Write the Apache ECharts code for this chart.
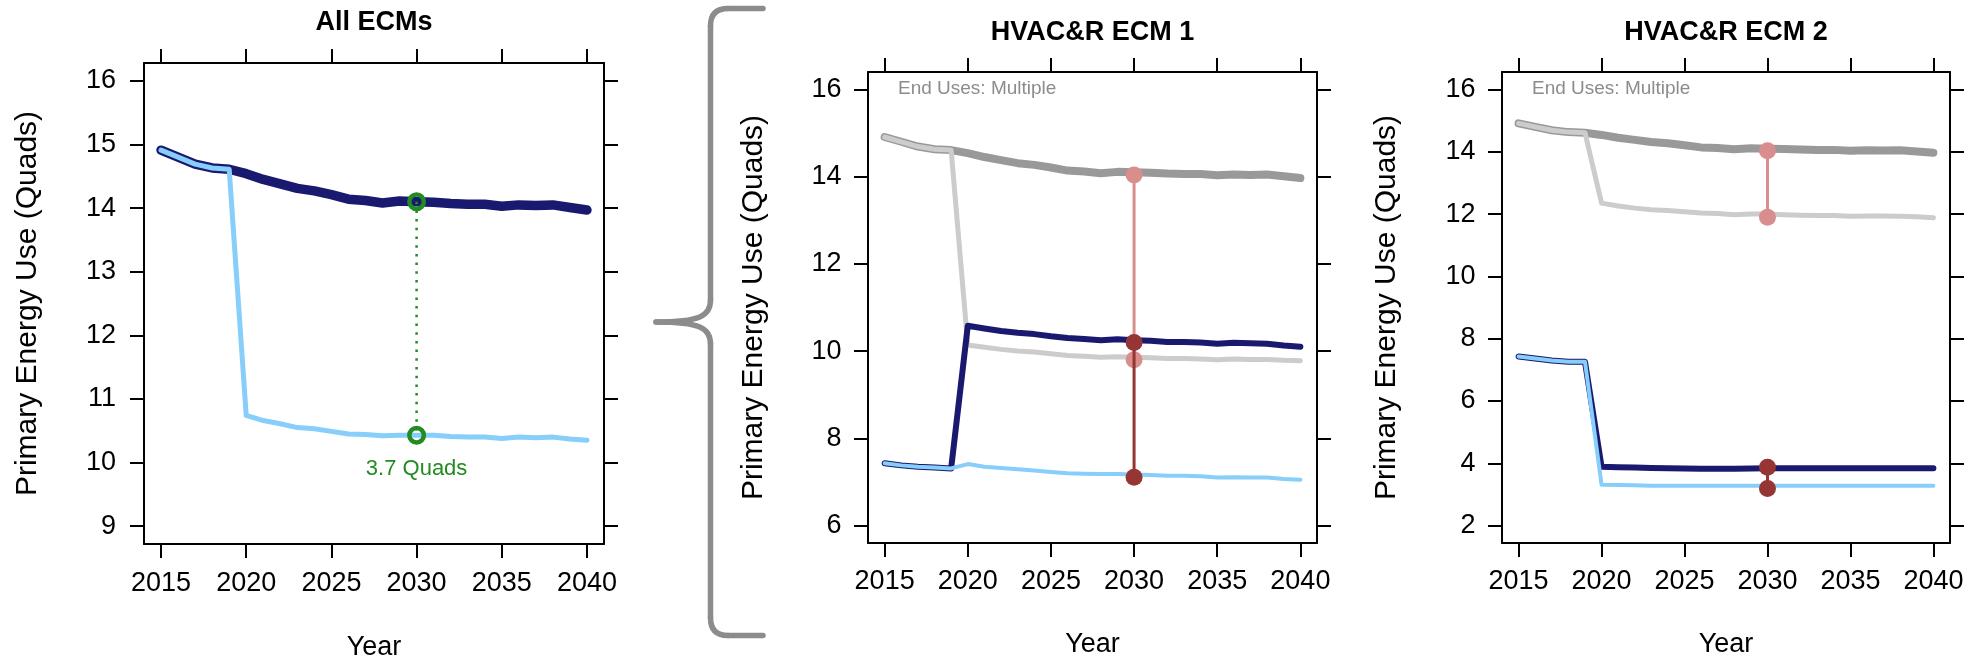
<!DOCTYPE html>
<html>
<head>
<meta charset="utf-8">
<script src="https://cdn.jsdelivr.net/npm/echarts@6/dist/echarts.min.js"></script>
<style>html,body{margin:0;padding:0;background:#fff}#c{width:1982px;height:662px}</style>
</head>
<body>
<div id="c"></div>
<script>
// ---------------- DATA ----------------
const years = [2015,2016,2017,2018,2019,2020,2021,2022,2023,2024,2025,2026,2027,2028,2029,2030,2031,2032,2033,2034,2035,2036,2037,2038,2039,2040];

// Total baseline energy (same in every panel)
const baselineTotal = [14.91,14.80,14.69,14.63,14.61,14.54,14.45,14.38,14.31,14.27,14.21,14.14,14.12,14.08,14.11,14.10,14.09,14.07,14.06,14.06,14.03,14.05,14.04,14.05,14.01,13.97];
// All ECMs: efficient total
const allEfficient = [14.91,14.80,14.69,14.63,14.61,10.74,10.66,10.61,10.55,10.53,10.49,10.45,10.44,10.42,10.43,10.43,10.43,10.41,10.40,10.40,10.38,10.40,10.39,10.40,10.37,10.35];

// HVAC&R ECM 1
const ecm1EffTotal = [14.91,14.80,14.69,14.63,14.61,10.14,10.09,10.04,10.00,9.98,9.94,9.90,9.88,9.86,9.87,9.86,9.85,9.83,9.83,9.82,9.80,9.82,9.81,9.81,9.79,9.78];
const ecm1Baseline = [7.43,7.38,7.35,7.33,7.31,10.58,10.52,10.46,10.42,10.39,10.34,10.30,10.28,10.25,10.27,10.25,10.24,10.21,10.21,10.20,10.17,10.19,10.18,10.17,10.13,10.10];
const ecm1Efficient = [7.43,7.38,7.35,7.33,7.31,7.41,7.35,7.32,7.29,7.26,7.23,7.20,7.19,7.18,7.18,7.17,7.16,7.14,7.14,7.13,7.10,7.11,7.10,7.10,7.07,7.05];
const ecm1TotalMarks = [14.04, 9.80];
const ecm1SegMarks = [10.20, 7.11];

// HVAC&R ECM 2
const ecm2EffTotal = [14.91,14.80,14.69,14.63,14.61,12.35,12.26,12.19,12.14,12.11,12.07,12.03,12.02,11.98,12.00,12.00,11.98,11.96,11.95,11.95,11.93,11.94,11.94,11.93,11.91,11.88];
const ecm2Baseline = [7.43,7.36,7.30,7.26,7.26,3.89,3.87,3.86,3.85,3.84,3.83,3.82,3.82,3.82,3.83,3.84,3.84,3.84,3.84,3.84,3.84,3.84,3.84,3.84,3.84,3.84];
const ecm2Efficient = [7.43,7.36,7.30,7.26,7.26,3.31,3.30,3.29,3.28,3.28,3.28,3.28,3.28,3.28,3.28,3.28,3.28,3.28,3.28,3.28,3.28,3.28,3.28,3.28,3.28,3.28];
const ecm2TotalMarks = [14.03, 11.90];
const ecm2SegMarks = [3.87, 3.19];

const markYear = 2030;
const xTicks = [2015,2020,2025,2030,2035,2040];
const yTicks1 = [9,10,11,12,13,14,15,16];
const yTicks2 = [6,8,10,12,14,16];
const yTicks3 = [2,4,6,8,10,12,14,16];
const titles = ['All ECMs','HVAC&R ECM 1','HVAC&R ECM 2'];
const endUseText = 'End Uses: Multiple';

// ---------------- STYLE / LAYOUT ----------------
const FONT = '"Liberation Sans", Arial, Helvetica, sans-serif';
const NAVY = '#191970', LBLUE = '#87CEFA', GRAY = '#999999', LGRAY = '#CCCCCC';
const GREEN = '#228B22', PRED = '#D98E8E', DRED = '#963634';

const grids = [
  {left:144, top:63, width:460, height:481},
  {left:868, top:72, width:449, height:471},
  {left:1502, top:72, width:448, height:471}
];
const yRanges = [[8.72,16.28],[5.6,16.4],[1.44,16.56]];
const yTicksAll = [yTicks1, yTicks2, yTicks3];
const yNameGap = [101, 99, 100];
const xNameGap = [90, 88, 88];
const yLabelMargin = [28, 26.5, 26.5];
const xLabelMargin = [26, 25, 25];

const axisLine = {show:true, onZero:false, lineStyle:{color:'#000', width:2}};
function tick(vals){ return {show:true, inside:false, length:14, lineStyle:{color:'#000', width:2}, customValues:vals}; }
const plain = v => String(v);

const xAxes = [], yAxes = [];
for (let i = 0; i < 3; i++) {
  xAxes.push({gridIndex:i, type:'value', position:'bottom', min:2014, max:2041,
    axisLine, axisTick:tick(xTicks), splitLine:{show:false},
    axisLabel:{customValues:xTicks, formatter:plain, margin:xLabelMargin[i], fontSize:27, color:'#000', fontFamily:FONT},
    name:'Year', nameLocation:'middle', nameGap:xNameGap[i],
    nameTextStyle:{fontSize:27, color:'#000', fontFamily:FONT}});
  yAxes.push({gridIndex:i, type:'value', position:'left', min:yRanges[i][0], max:yRanges[i][1],
    axisLine, axisTick:tick(yTicksAll[i]), splitLine:{show:false},
    axisLabel:{customValues:yTicksAll[i], formatter:plain, margin:yLabelMargin[i], fontSize:27, color:'#000', fontFamily:FONT},
    name:'Primary Energy Use (Quads)', nameLocation:'middle', nameGap:yNameGap[i], nameRotate:90,
    nameTextStyle:{fontSize:30, color:'#000', fontFamily:FONT}});
}
for (let i = 0; i < 3; i++) {
  xAxes.push({gridIndex:i, type:'value', position:'top', min:2014, max:2041,
    axisLine, axisTick:tick(xTicks), splitLine:{show:false}, axisLabel:{show:false}});
  yAxes.push({gridIndex:i, type:'value', position:'right', min:yRanges[i][0], max:yRanges[i][1],
    axisLine, axisTick:tick(yTicksAll[i]), splitLine:{show:false}, axisLabel:{show:false}});
}

function pairs(vals){ return years.map((y,k)=>[y, vals[k]]); }
function line(gi, vals, color, width, z){
  return {type:'line', xAxisIndex:gi, yAxisIndex:gi, data:pairs(vals), symbol:'none', showSymbol:false,
    lineStyle:{color, width, cap:'round', join:'round', opacity:1}, z, silent:true, animation:false, emphasis:{disabled:true}};
}
function seg(gi, vals, color, z){
  return {type:'line', xAxisIndex:gi, yAxisIndex:gi, data:vals.map(v=>[markYear, v]),
    symbol:'circle', symbolSize:17, showSymbol:true, itemStyle:{color, opacity:1}, lineStyle:{color, width:3}, z,
    silent:true, animation:false, emphasis:{disabled:true}};
}

const mi = years.indexOf(markYear);
const gTop = baselineTotal[mi], gBot = allEfficient[mi];

const series = [
  line(0, baselineTotal, NAVY, 9.5, 2),
  line(0, allEfficient, LBLUE, 5, 3),
  {type:'line', xAxisIndex:0, yAxisIndex:0, data:[[markYear,gTop],[markYear,gBot]], symbol:'none',
   lineStyle:{color:GREEN, width:2.5, type:[2.5,6.2]}, z:4, silent:true, animation:false},
  {type:'scatter', xAxisIndex:0, yAxisIndex:0, symbol:'circle', symbolSize:14.5, z:5, silent:true, animation:false,
   emphasis:{disabled:true},
   itemStyle:{color:'rgba(0,0,0,0)', borderColor:GREEN, borderWidth:4.5, opacity:1},
   data:[{value:[markYear,gTop]},
         {value:[markYear,gBot], label:{show:true, position:'bottom', distance:13, color:GREEN, opacity:1, fontSize:22, fontFamily:FONT,
          formatter:()=> (gTop-gBot).toFixed(1)+' Quads'}}]},

  line(1, baselineTotal, GRAY, 8, 2),
  line(1, ecm1EffTotal, LGRAY, 5, 3),
  line(1, ecm1Baseline, NAVY, 6, 4),
  line(1, ecm1Efficient, LBLUE, 4, 5),
  seg(1, ecm1TotalMarks, PRED, 6),
  seg(1, ecm1SegMarks, DRED, 7),

  line(2, baselineTotal, GRAY, 8, 2),
  line(2, ecm2EffTotal, LGRAY, 5, 3),
  line(2, ecm2Baseline, NAVY, 6, 4),
  line(2, ecm2Efficient, LBLUE, 4, 5),
  seg(2, ecm2TotalMarks, PRED, 6),
  seg(2, ecm2SegMarks, DRED, 7)
];

// decorative brace
const braceStyle = {stroke:'#8C8C8C', lineWidth:5.5, fill:null, lineCap:'round'};
const bx = 710.5;
const graphic = [
  {type:'line', silent:true, shape:{x1:728, y1:8.5, x2:763, y2:8.5}, style:braceStyle},
  {type:'bezierCurve', silent:true, shape:{x1:728, y1:8.5, cpx1:bx, cpy1:8.5, x2:bx, y2:26}, style:braceStyle},
  {type:'line', silent:true, shape:{x1:bx, y1:26, x2:bx, y2:300}, style:braceStyle},
  {type:'bezierCurve', silent:true, shape:{x1:bx, y1:300, cpx1:bx, cpy1:316, cpx2:700, cpy2:322, x2:656, y2:322}, style:braceStyle},
  {type:'bezierCurve', silent:true, shape:{x1:656, y1:322, cpx1:700, cpy1:322, cpx2:bx, cpy2:328, x2:bx, y2:344}, style:braceStyle},
  {type:'line', silent:true, shape:{x1:bx, y1:344, x2:bx, y2:618}, style:braceStyle},
  {type:'bezierCurve', silent:true, shape:{x1:bx, y1:618, cpx1:bx, cpy1:635.5, x2:728, y2:635.5}, style:braceStyle},
  {type:'line', silent:true, shape:{x1:728, y1:635.5, x2:763, y2:635.5}, style:braceStyle}
];
const titleY = [23, 32.4, 32.4];
grids.forEach((g,i)=>{
  graphic.push({type:'text', silent:true, style:{text:titles[i], x:g.left+g.width/2, y:titleY[i], align:'center', verticalAlign:'middle',
    font:'bold 27px '+FONT, fill:'#000'}});
});
[1,2].forEach(i=>{
  const g = grids[i];
  graphic.push({type:'text', silent:true, style:{text:endUseText, x:g.left+30, y:88.4, align:'left', verticalAlign:'middle',
    font:'19px '+FONT, fill:'#8C8C8C'}});
});

const chart = echarts.init(document.getElementById('c'), null, {renderer:'canvas'});
chart.setOption({
  animation:false,
  grid: grids.map(g=>Object.assign({outerBoundsMode:'none', containLabel:false}, g)),
  xAxis: xAxes, yAxis: yAxes, series, graphic
});
</script>
</body>
</html>
